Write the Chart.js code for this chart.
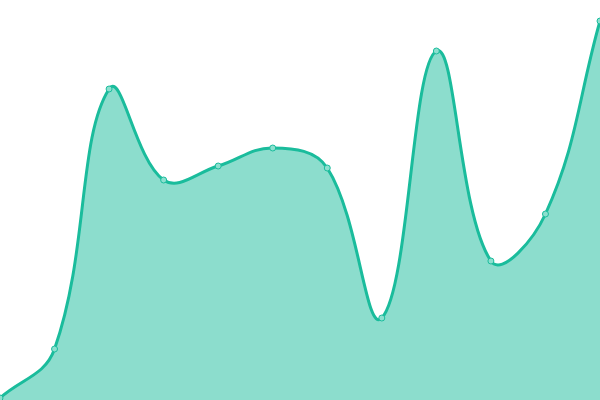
<!DOCTYPE html>
<html>
<head>
<meta charset="utf-8">
<script src="https://cdn.jsdelivr.net/npm/chart.js@4/dist/chart.umd.min.js"></script>
<style>
html,body{margin:0;padding:0;background:#fff;}
#wrap{width:600px;height:400px;}
</style>
</head>
<body>
<div id="wrap"><canvas id="c"></canvas></div>
<script>
const labels = ["1","2","3","4","5","6","7","8","9","10","11","12"];
const values = [0.5, 12.75, 77.75, 55, 58.5, 63, 58, 20.5, 87.25, 34.75, 46.5, 94.75];

new Chart(document.getElementById('c'), {
  type: 'line',
  data: {
    labels: labels,
    datasets: [{
      data: values,
      borderColor: '#1abc9c',
      backgroundColor: 'rgba(26,188,156,0.5)',
      borderWidth: 3,
      fill: 'origin',
      tension: 0.4,
      pointRadius: 3,
      pointBorderWidth: 1,
      pointBackgroundColor: 'rgba(140,224,207,1)',
      pointBorderColor: '#1abc9c'
    }]
  },
  options: {
    responsive: true,
    maintainAspectRatio: false,
    animation: false,
    layout: { padding: 0, autoPadding: false },
    plugins: { legend: { display: false }, tooltip: { enabled: false } },
    scales: {
      x: { display: false, offset: false },
      y: { display: false, min: 0, max: 100 }
    }
  }
});
</script>
</body>
</html>
